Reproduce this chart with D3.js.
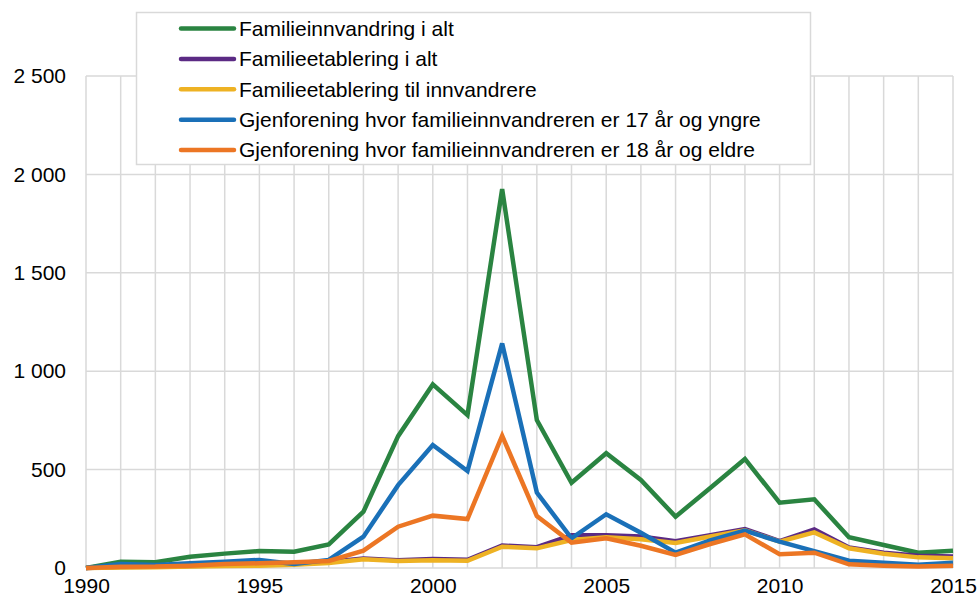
<!DOCTYPE html>
<html>
<head>
<meta charset="utf-8">
<script src="https://cdn.jsdelivr.net/npm/d3@7"></script>
<style>
  body { margin: 0; background: #fff; }
  text { font-family: Arial, "Liberation Sans", sans-serif; fill: #000; }
</style>
</head>
<body>
<div id="chart"></div>
<script>
// data
const years = d3.range(1990, 2016);
const familieinnvandring = [0, 32, 29, 57, 73, 86, 83, 120, 286, 670, 933, 777, 1925, 752, 433, 583, 447, 261, 406, 554, 332, 349, 156, 117, 78, 88];
const etableringAlt = [0, 5, 6, 10, 13, 16, 20, 30, 48, 40, 46, 42, 114, 106, 167, 167, 160, 136, 167, 198, 137, 196, 104, 78, 62, 58];
const etableringInnv = [0, 3, 4, 8, 10, 12, 16, 26, 44, 36, 40, 37, 108, 100, 142, 156, 146, 127, 160, 192, 134, 181, 100, 72, 54, 50];
const gjenfUnder18 = [0, 20, 15, 24, 32, 41, 20, 41, 159, 421, 625, 493, 1141, 383, 151, 273, 179, 78, 140, 190, 134, 86, 37, 27, 17, 27];
const gjenfOver18 = [0, 6, 7, 12, 20, 24, 29, 36, 88, 210, 266, 249, 672, 264, 129, 151, 113, 66, 122, 171, 70, 78, 19, 12, 7, 12];

const seriesNames = [
    "Familieinnvandring i alt",
    "Familieetablering i alt",
    "Familieetablering til innvandrere",
    "Gjenforening hvor familieinnvandreren er 17 år og yngre",
    "Gjenforening hvor familieinnvandreren er 18 år og eldre"
];
const seriesColors = ["#2a8441", "#5b2a84", "#eeb223", "#1a70b8", "#ec7624"];
const yTicks = [0, 500, 1000, 1500, 2000, 2500];
const xTicks = [1990, 1995, 2000, 2005, 2010, 2015];

const series = [familieinnvandring, etableringAlt, etableringInnv, gjenfUnder18, gjenfOver18]
    .map((values, i) => ({ name: seriesNames[i], color: seriesColors[i], values }));

const dimensions = {
    width: 979,
    height: 594,
    margin: { top: 76, right: 26, bottom: 26, left: 86 }
};
dimensions.boundedWidth = dimensions.width - dimensions.margin.left - dimensions.margin.right;
dimensions.boundedHeight = dimensions.height - dimensions.margin.top - dimensions.margin.bottom;

const svg = d3.select("#chart")
    .append("svg")
    .attr("width", dimensions.width)
    .attr("height", dimensions.height);

const xScale = d3.scaleLinear()
    .domain([1990, 2015])
    .range([dimensions.margin.left, dimensions.margin.left + dimensions.boundedWidth]);

const yScale = d3.scaleLinear()
    .domain([0, 2500])
    .range([dimensions.margin.top + dimensions.boundedHeight, dimensions.margin.top]);

// gridlines
const grid = svg.append("g").attr("stroke", "#d9d9d9").attr("stroke-width", 1.5);
grid.selectAll("line.v")
    .data(years)
    .join("line")
    .attr("class", "v")
    .attr("x1", d => xScale(d)).attr("x2", d => xScale(d))
    .attr("y1", yScale(0)).attr("y2", yScale(2500));
grid.selectAll("line.h")
    .data(yTicks)
    .join("line")
    .attr("class", "h")
    .attr("x1", xScale(1990)).attr("x2", xScale(2015))
    .attr("y1", d => yScale(d)).attr("y2", d => yScale(d));

// y axis labels
const yAxis = d3.axisLeft(yScale)
    .tickValues(yTicks)
    .tickSize(0)
    .tickPadding(20)
    .tickFormat(d => d3.format(",")(d).replace(",", " "));
svg.append("g")
    .attr("transform", `translate(${dimensions.margin.left},0)`)
    .call(yAxis)
    .call(g => g.select(".domain").remove())
    .selectAll("text")
    .style("font-size", "21px")
    .attr("fill", "#000");

// x axis labels
const xAxis = d3.axisBottom(xScale)
    .tickValues(xTicks)
    .tickSize(0)
    .tickPadding(10)
    .tickFormat(d3.format("d"));
svg.append("g")
    .attr("transform", `translate(0,${yScale(0)})`)
    .call(xAxis)
    .call(g => g.select(".domain").remove())
    .selectAll("text")
    .style("font-size", "21px")
    .attr("fill", "#000");

// lines
const line = d3.line()
    .x((d, i) => xScale(years[i]))
    .y(d => yScale(d));

svg.append("g")
    .selectAll("path")
    .data(series)
    .join("path")
    .attr("d", d => line(d.values))
    .attr("fill", "none")
    .attr("stroke", d => d.color)
    .attr("stroke-width", 4.5)
    .attr("stroke-linejoin", "miter");

// legend
const legend = svg.append("g");
legend.append("rect")
    .attr("x", 136.5)
    .attr("y", 12.5)
    .attr("width", 674)
    .attr("height", 152)
    .attr("fill", "#fff")
    .attr("stroke", "#d9d9d9")
    .attr("stroke-width", 1.5);

const rows = legend.selectAll("g.row")
    .data(series)
    .join("g")
    .attr("class", "row")
    .attr("transform", (d, i) => `translate(0, ${28.5 + i * 30.4})`);
rows.append("line")
    .attr("x1", 181).attr("x2", 234)
    .attr("stroke", d => d.color)
    .attr("stroke-width", 4.5)
    .attr("stroke-linecap", "round");
rows.append("text")
    .attr("x", 239)
    .attr("dy", "0.35em")
    .style("font-size", "21px")
    .text(d => d.name);
</script>
</body>
</html>
